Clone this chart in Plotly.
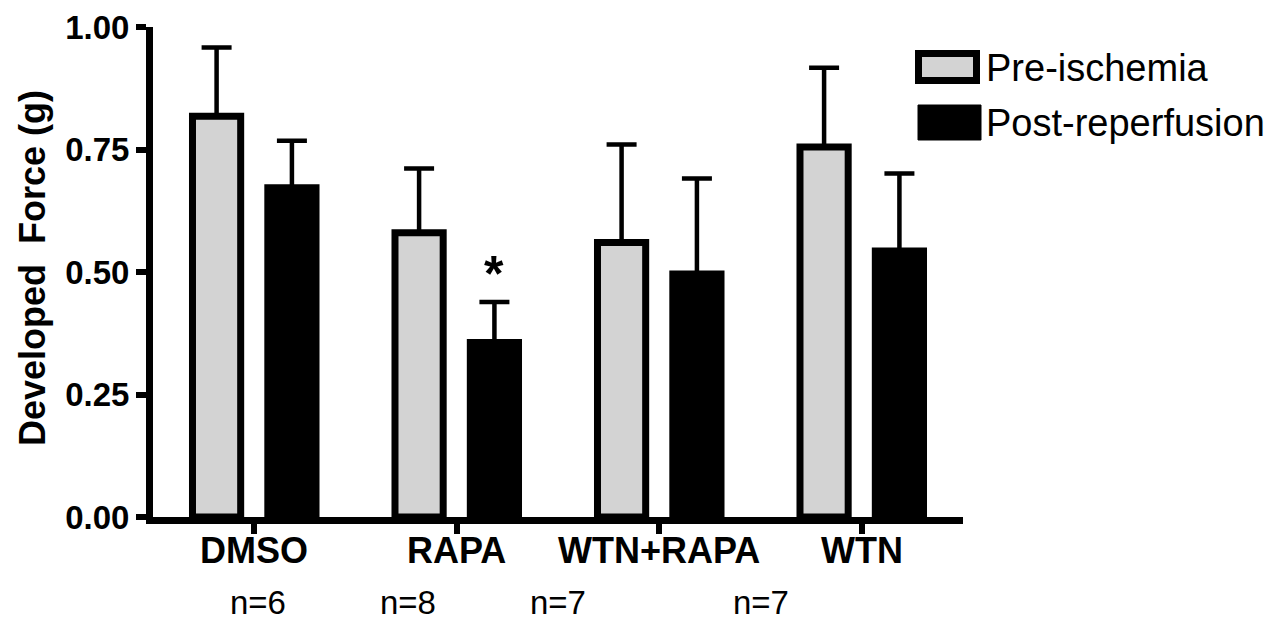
import plotly.graph_objects as go

# ---- data ----
groups = ["DMSO", "RAPA", "WTN+RAPA", "WTN"]
pre_mean = [0.818, 0.580, 0.560, 0.755]
pre_err = [0.140, 0.131, 0.200, 0.162]
post_mean = [0.672, 0.356, 0.496, 0.543]
post_err = [0.096, 0.083, 0.195, 0.158]
n_labels = ["n=6", "n=8", "n=7", "n=7"]
n_label_x = [0.02, 0.76, 1.50, 2.50]
y_ticks = [0, 0.25, 0.50, 0.75, 1.00]
series_names = ["Pre-ischemia", "Post-reperfusion"]

FONT = "Liberation Sans, Arial, sans-serif"
PAGE_OFF = 8  # default body margin of the html page
W, H = 1277 - PAGE_OFF, 622 - PAGE_OFF
ML, MR, MT, MB = 153 - PAGE_OFF, 314, 27 - PAGE_OFF, 105
PW, PH = W - ML - MR, H - MT - MB
BOTTOM = 517  # page pixel of y=0


def px_x(p):
    return (p - PAGE_OFF - ML) / PW


def px_y(p):
    return (BOTTOM - p) / PH


xpos = list(range(len(groups)))
bar_w = 0.238
off = 0.186

fig = go.Figure()
fig.add_trace(go.Bar(
    x=xpos, y=pre_mean, name=series_names[0], width=bar_w, offset=-off - bar_w / 2,
    marker=dict(color="#D3D3D3", line=dict(color="black", width=7)),
    error_y=dict(type="data", symmetric=False, array=pre_err, arrayminus=[0] * 4,
                 color="black", thickness=4.5, width=15),
    showlegend=False,
))
fig.add_trace(go.Bar(
    x=xpos, y=post_mean, name=series_names[1], width=bar_w, offset=off - bar_w / 2,
    marker=dict(color="black", line=dict(color="black", width=7)),
    error_y=dict(type="data", symmetric=False, array=post_err, arrayminus=[0] * 4,
                 color="black", thickness=4.5, width=15),
    showlegend=False,
))

# significance star
fig.add_annotation(x=1 + off, y=post_mean[1] + post_err[1], yshift=28, text="<b>*</b>",
                   showarrow=False, yanchor="middle",
                   font=dict(family=FONT, size=50, color="black"))

# category labels
for xv, g in zip(xpos, groups):
    fig.add_annotation(x=xv, y=px_y(550), xref="x", yref="paper",
                       xanchor="center", yanchor="middle", text=f"<b>{g}</b>",
                       showarrow=False, font=dict(family=FONT, size=36, color="black"))

# n labels
for xv, t in zip(n_label_x, n_labels):
    fig.add_annotation(x=xv, y=px_y(602), xref="x", yref="paper",
                       xanchor="center", yanchor="middle", text=t, showarrow=False,
                       font=dict(family=FONT, size=33, color="black"))

# y title
fig.add_annotation(x=px_x(32), y=px_y(268), xref="paper", yref="paper",
                   xanchor="center", yanchor="middle", textangle=-90,
                   text="<b>Developed  Force (g)</b>", showarrow=False,
                   font=dict(family=FONT, size=36, color="black"))

# legend (manual)
fig.add_shape(type="rect", xref="paper", yref="paper",
              x0=px_x(918.5), x1=px_x(976.5), y0=px_y(80.5), y1=px_y(53.5),
              fillcolor="#D3D3D3", line=dict(color="black", width=7))
fig.add_shape(type="rect", xref="paper", yref="paper",
              x0=px_x(918), x1=px_x(981), y0=px_y(140), y1=px_y(105),
              fillcolor="black", line=dict(color="black", width=1))
for i, name in enumerate(series_names):
    fig.add_annotation(x=px_x(984), y=px_y(68 + 55 * i), xref="paper", yref="paper",
                       xanchor="left", yanchor="middle", text=name, showarrow=False,
                       font=dict(family=FONT, size=38, color="black"))

fig.update_layout(
    width=W, height=H,
    margin=dict(l=ML, r=MR, t=MT, b=MB, autoexpand=False),
    plot_bgcolor="white", paper_bgcolor="white",
    barmode="overlay",
    font=dict(family=FONT, color="black"),
    xaxis=dict(
        range=[-0.5, 3.5], tickvals=xpos, showticklabels=False, automargin=False,
        showline=True, linecolor="black", linewidth=7, mirror=False,
        ticks="outside", ticklen=10, tickwidth=6, tickcolor="black",
        showgrid=False, zeroline=False,
    ),
    yaxis=dict(
        range=[0, 1.0], tickvals=y_ticks, ticktext=[f"<b>{v:.2f}</b>" for v in y_ticks],
        automargin=False,
        showline=True, linecolor="black", linewidth=7,
        ticks="outside", ticklen=10, tickwidth=6, tickcolor="black",
        showgrid=False, zeroline=False,
        tickfont=dict(family=FONT, size=33, color="black"),
    ),
)

fig.write_html("out.html")
